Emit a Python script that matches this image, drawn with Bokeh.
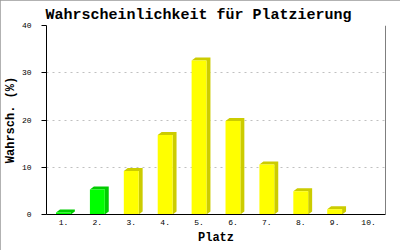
import numpy as np
from bokeh.plotting import figure
from bokeh.models import FixedTicker, Span, Range1d, ColumnDataSource, Title
from bokeh.embed import file_html
from bokeh.resources import INLINE

# ---- data ----
places = ["1.", "2.", "3.", "4.", "5.", "6.", "7.", "8.", "9.", "10."]
probabilities = [0.4, 5.3, 9.2, 16.8, 32.6, 19.8, 10.6, 4.9, 1.1, 0.0]
y_ticks = [0, 10, 20, 30, 40]
title_text = "Wahrscheinlichkeit für Platzierung"
x_label = "Platz"
y_label = "Wahrsch. (%)"

# ---- styles ----
FONT = "Liberation Mono"
front_green, side_green = "#00ff00", "#00cc00"
front_yellow, side_yellow = "#ffff00", "#cccc00"

W, H = 400, 250
LEFT, RIGHT, TOP, BOTTOM = 43, 15, 25, 36
frame_w = W - LEFT - RIGHT
frame_h = H - TOP - BOTTOM

x_pos = np.arange(1, len(places) + 1)
vals = np.array(probabilities)

px_x = frame_w / len(places)     # pixels per x unit
px_y = frame_h / 40.0            # pixels per y unit
dx = 4 / px_x
dy = 3 / px_y
half = 7.5 / px_x

front_colors = [front_green if i < 2 else front_yellow for i in range(len(places))]
side_colors = [side_green if i < 2 else side_yellow for i in range(len(places))]

p = figure(width=W, height=H, output_backend="svg", toolbar_location=None,
           x_range=Range1d(0.5, len(places) + 0.5), y_range=Range1d(0, 40),
           min_border_left=LEFT, min_border_right=RIGHT,
           min_border_top=TOP, min_border_bottom=BOTTOM,
           title=title_text)
p.styles = {"outline": "1px solid #999999", "outline-offset": "-1px"}
p.background_fill_color = "white"
p.border_fill_color = "white"
p.outline_line_color = None

# title
p.title.text_font = FONT
p.title.text_font_size = "15px"
p.title.text_font_style = "bold"
p.title.text_color = "black"
p.title.align = "left"
p.title.standoff = 4
p.title.offset = -1

# 3D side/top faces
mask = vals > 0
xs, ys, cols = [], [], []
for xc, v, c in zip(x_pos[mask], vals[mask], np.array(side_colors)[mask]):
    xl, xr = xc - half, xc + half
    xs.append([xl, xl + dx, xr + dx, xr + dx, xr, xr, xl])
    ys.append([v, v + dy, v + dy, dy, 0, v, v])
    cols.append(c)
p.patches(xs=xs, ys=ys, fill_color=cols, line_color=None)

# front faces
src = ColumnDataSource(dict(x=x_pos[mask], top=vals[mask],
                            color=np.array(front_colors)[mask]))
p.vbar(x="x", top="top", bottom=0, width=2 * half, fill_color="color",
       line_color=None, source=src)

# right frame line
p.add_layout(Span(location=len(places) + 0.5, dimension="height",
                  line_color="black", line_width=1))

# axes
p.xgrid.grid_line_color = None
p.ygrid.grid_line_color = "#c0c0c0"
p.ygrid.grid_line_dash = "2 4"
p.ygrid.ticker = FixedTicker(ticks=y_ticks)

p.yaxis.ticker = FixedTicker(ticks=y_ticks)
p.yaxis.major_tick_out = 5
p.yaxis.major_tick_in = 0
p.yaxis.major_tick_line_color = "black"
p.yaxis.minor_tick_line_color = None
p.yaxis.major_label_standoff = 10
p.yaxis.axis_label = y_label
p.yaxis.axis_label_standoff = 1

p.xaxis.ticker = FixedTicker(ticks=list(x_pos))
p.xaxis.major_label_overrides = {int(i): s for i, s in zip(x_pos, places)}
p.xaxis.major_tick_line_color = None
p.xaxis.major_tick_out = 0
p.xaxis.major_tick_in = 0
p.xaxis.minor_tick_line_color = None
p.xaxis.major_label_standoff = 5

for ax in (p.xaxis[0], p.yaxis[0]):
    ax.axis_line_color = "black"
    ax.major_label_text_font = FONT
    ax.major_label_text_font_size = "8px"
    ax.major_label_text_color = "black"
    ax.axis_label_text_font = FONT
    ax.axis_label_text_font_size = "12px"
    ax.axis_label_text_font_style = "bold"
    ax.axis_label_text_color = "black"

# x axis label as a title in the lower panel
p.add_layout(Title(text=x_label, align="center", text_font=FONT,
                   text_font_size="12px", text_font_style="bold",
                   text_color="black", standoff=2), "below")

open("out.html", "w").write(file_html(p, INLINE))
